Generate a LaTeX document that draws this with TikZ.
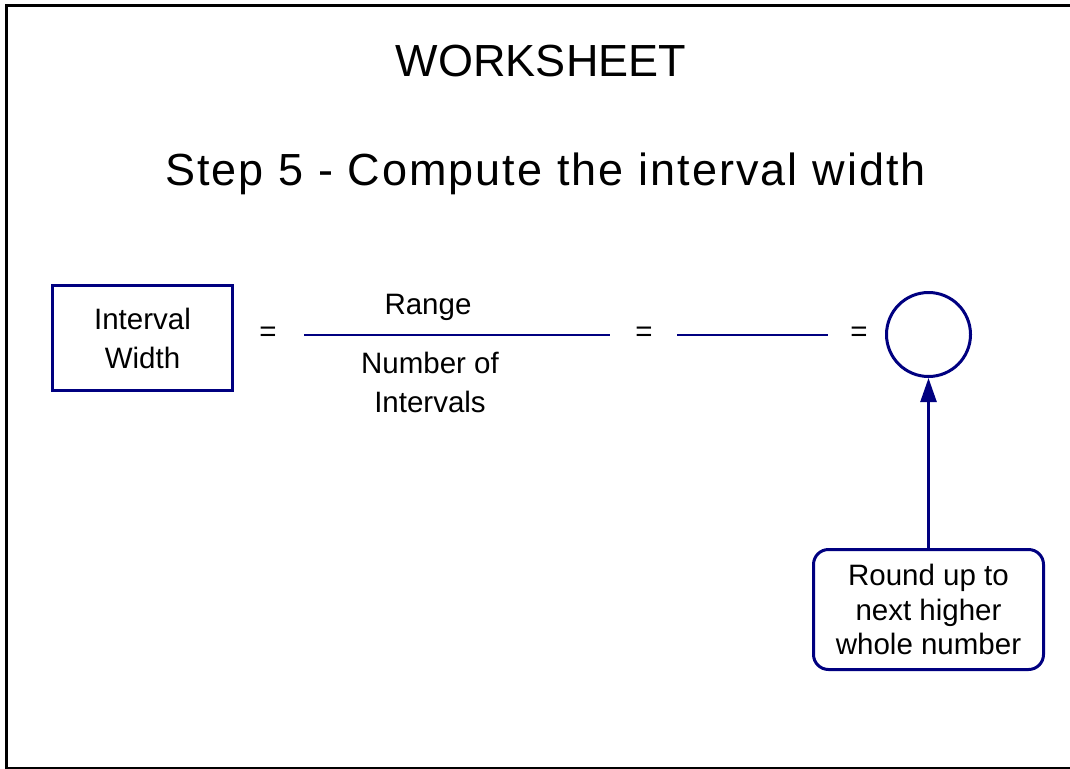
\documentclass[tikz,border=0pt]{standalone}
\usepackage{fontspec}
\setmainfont{Liberation Sans}
\usetikzlibrary{arrows.meta}
\definecolor{navyblue}{RGB}{0,0,128}
\begin{document}
\begin{tikzpicture}[x=1pt,y=-1pt,
  bigtext/.style={font=\fontsize{45}{54}\selectfont, inner sep=0pt},
  smalltext/.style={font=\fontsize{29.5}{39}\selectfont, align=center, inner sep=0pt},
  navybox/.style={draw=navyblue, line width=3pt},
  navyline/.style={draw=navyblue, line width=2.8pt},
  arrowline/.style={draw=navyblue, line width=2.5pt, -{Triangle[length=24pt,width=16pt]}}
]
\useasboundingbox (0,0) rectangle (1070,768);
\begin{scope}
  \clip (0,0) rectangle (1070,768);
  \draw[line width=3.5pt] (6.5,5.5) rectangle (1090,768.5);
\end{scope}

\node[bigtext, anchor=base] (title) at (541,77) {WORKSHEET};
\node[bigtext, anchor=base] (step) at (545.5,185)
  {\addfontfeature{LetterSpace=4.6}Step 5 - Compute the interval width};

\node[smalltext, navybox, minimum width=180pt, minimum height=105pt] (iw) at (142.5,338) {Interval\\Width};

\node[smalltext] (eqa) at (268,334.5) {=};
\coordinate (fa1) at (304,335);
\coordinate (fa2) at (610,335);
\draw[navyline] (fa1) -- (fa2);
\node[smalltext, anchor=base] (range) at (428,314) {Range};
\node[smalltext] (noi) at (430,382) {Number of\\Intervals};

\node[smalltext] (eqb) at (644,334.5) {=};
\coordinate (fb1) at (677,335);
\coordinate (fb2) at (828,335);
\draw[navyline] (fb1) -- (fb2);

\node[smalltext] (eqc) at (859,334.5) {=};
\node[navybox, circle, minimum size=84pt, inner sep=0pt] (res) at (928.5,334.5) {};

\node[smalltext, navybox, rounded corners=15pt, minimum width=230pt, minimum height=120pt,
      font=\fontsize{29.5}{34.5}\selectfont] (rb) at (928.5,609.5)
  {Round up to\\next higher\\whole number};

\draw[arrowline] (rb.north) -- (res.south);
\end{tikzpicture}
\end{document}
